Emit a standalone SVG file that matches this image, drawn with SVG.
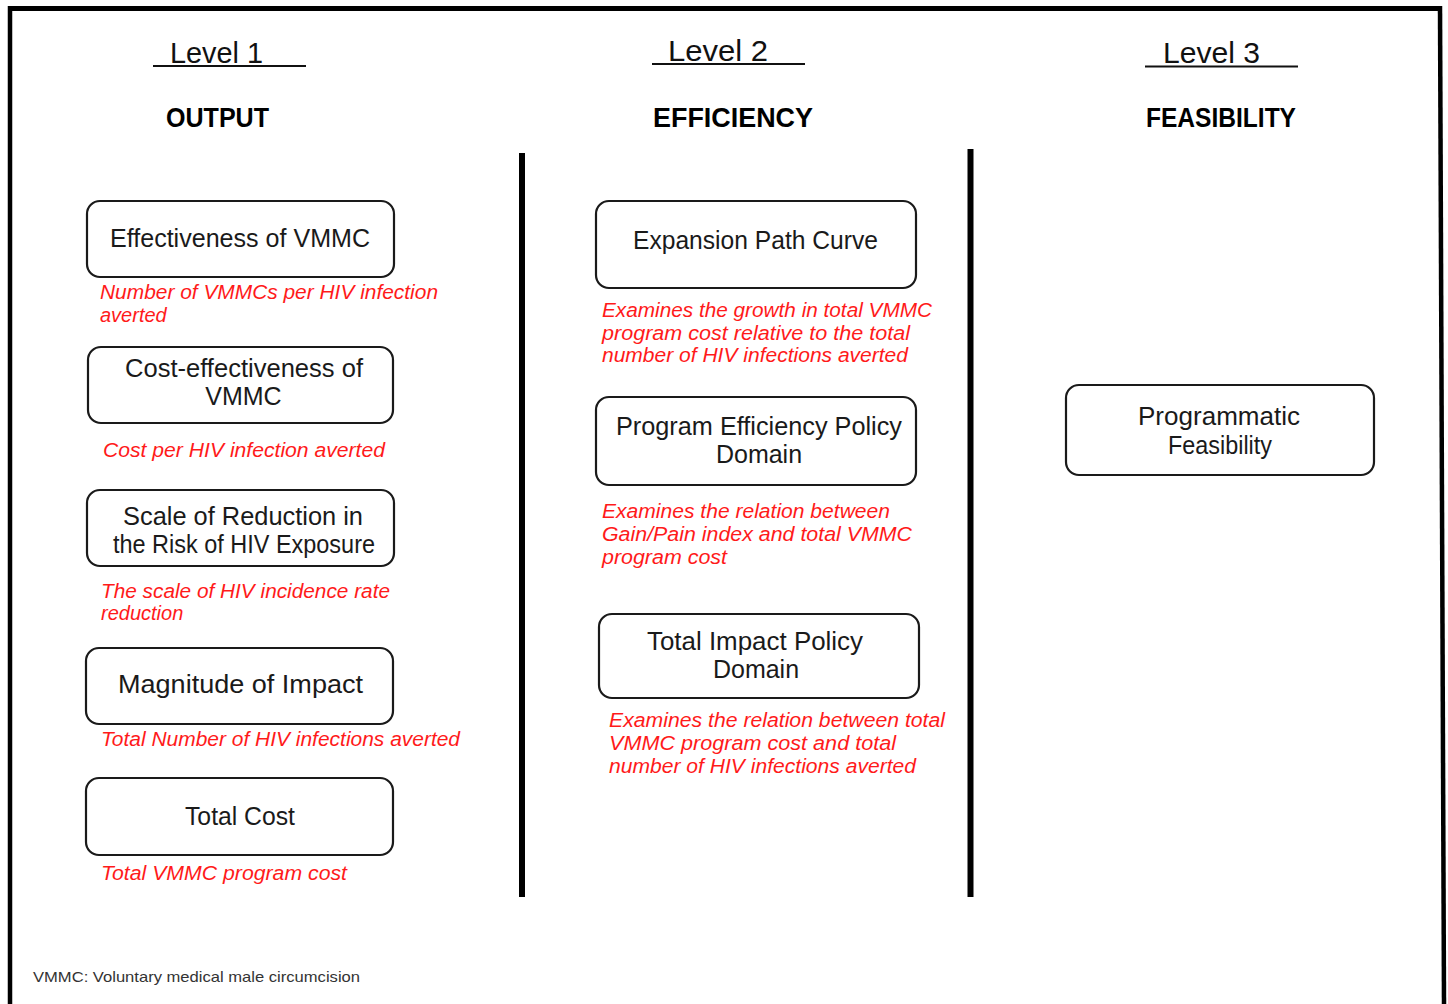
<svg xmlns="http://www.w3.org/2000/svg" width="1448" height="1004" viewBox="0 0 1448 1004">
<style>
.box{fill:#fff;stroke:#1a1a1a;stroke-width:2.2}
.t{font-family:"Liberation Sans",Arial,sans-serif;font-size:25px;fill:#1a1a1a}
.r{font-family:"Liberation Sans",Arial,sans-serif;font-size:20px;font-style:italic;fill:#ff1a1a}
.lv{font-family:"Liberation Sans",Arial,sans-serif;font-size:29px;fill:#111}
.hd{font-family:"Liberation Sans",Arial,sans-serif;font-size:27px;font-weight:bold;fill:#000}
.ul{stroke:#111;stroke-width:2}
.div{stroke:#000;stroke-width:6}
.fn{font-family:"Liberation Sans",Arial,sans-serif;font-size:15px;fill:#333}
</style>
<rect width="1448" height="1004" fill="#fff"/>
<g id="frame">
<line x1="10" y1="8.5" x2="1441" y2="8.5" stroke="#000" stroke-width="5"/>
<line x1="10" y1="6" x2="10" y2="1004" stroke="#000" stroke-width="4.5"/>
<line x1="1440" y1="6" x2="1444" y2="1004" stroke="#000" stroke-width="4.5"/>
</g>
<g id="headers">
<text class="lv" x="170" y="63" textLength="93" lengthAdjust="spacingAndGlyphs">Level 1</text>
<line class="ul" x1="153" y1="66" x2="306" y2="66"/>
<text class="lv" x="668" y="61" textLength="100" lengthAdjust="spacingAndGlyphs">Level 2</text>
<line class="ul" x1="652" y1="64" x2="805" y2="64"/>
<text class="lv" x="1163" y="63" textLength="97" lengthAdjust="spacingAndGlyphs">Level 3</text>
<line class="ul" x1="1145" y1="66.5" x2="1298" y2="66.5"/>
<text class="hd" x="166" y="127" textLength="103" lengthAdjust="spacingAndGlyphs">OUTPUT</text>
<text class="hd" x="653" y="127" textLength="160" lengthAdjust="spacingAndGlyphs">EFFICIENCY</text>
<text class="hd" x="1146" y="127" textLength="150" lengthAdjust="spacingAndGlyphs">FEASIBILITY</text>
</g>
<g id="dividers">
<line class="div" x1="522" y1="153" x2="522" y2="897"/>
<line class="div" x1="970.5" y1="149" x2="970.5" y2="897"/>
</g>
<g id="connectors"></g>
<g id="effectiveness">
<rect class="box" x="87" y="201" width="307" height="76" rx="13"/>
<text class="t" x="110" y="247" textLength="260" lengthAdjust="spacingAndGlyphs">Effectiveness of VMMC</text>
<text class="r" x="100" y="299" textLength="338" lengthAdjust="spacingAndGlyphs">Number of VMMCs per HIV infection</text>
<text class="r" x="100" y="322">averted</text>
</g>
<g id="cost-effectiveness">
<rect class="box" x="88" y="347" width="305" height="76" rx="13"/>
<text class="t" x="125" y="377" textLength="238" lengthAdjust="spacingAndGlyphs">Cost-effectiveness of</text>
<text class="t" x="243.5" y="405" text-anchor="middle">VMMC</text>
<text class="r" x="103" y="457" textLength="282" lengthAdjust="spacingAndGlyphs">Cost per HIV infection averted</text>
</g>
<g id="scale-reduction">
<rect class="box" x="87" y="490" width="307" height="76" rx="13"/>
<text class="t" x="123" y="525" textLength="240" lengthAdjust="spacingAndGlyphs">Scale of Reduction in</text>
<text class="t" x="113" y="553" textLength="262" lengthAdjust="spacingAndGlyphs">the Risk of HIV Exposure</text>
<text class="r" x="101" y="598" textLength="289" lengthAdjust="spacingAndGlyphs">The scale of HIV incidence rate</text>
<text class="r" x="101" y="620">reduction</text>
</g>
<g id="magnitude">
<rect class="box" x="86" y="648" width="307" height="76" rx="13"/>
<text class="t" x="118" y="693" textLength="245" lengthAdjust="spacingAndGlyphs">Magnitude of Impact</text>
<text class="r" x="101" y="746" textLength="359" lengthAdjust="spacingAndGlyphs">Total Number of HIV infections averted</text>
</g>
<g id="total-cost">
<rect class="box" x="86" y="778" width="307" height="77" rx="13"/>
<text class="t" x="185" y="825" textLength="110" lengthAdjust="spacingAndGlyphs">Total Cost</text>
<text class="r" x="101" y="880" textLength="246" lengthAdjust="spacingAndGlyphs">Total VMMC program cost</text>
</g>
<g id="expansion-path">
<rect class="box" x="596" y="201" width="320" height="87" rx="13"/>
<text class="t" x="633" y="249" textLength="245" lengthAdjust="spacingAndGlyphs">Expansion Path Curve</text>
<text class="r" x="602" y="317" textLength="330" lengthAdjust="spacingAndGlyphs">Examines the growth in total VMMC</text>
<text class="r" x="602" y="340" textLength="308" lengthAdjust="spacingAndGlyphs">program cost relative to the total</text>
<text class="r" x="602" y="362" textLength="306" lengthAdjust="spacingAndGlyphs">number of HIV infections averted</text>
</g>
<g id="program-efficiency">
<rect class="box" x="596" y="397" width="320" height="88" rx="13"/>
<text class="t" x="616" y="435" textLength="286" lengthAdjust="spacingAndGlyphs">Program Efficiency Policy</text>
<text class="t" x="759" y="463" text-anchor="middle">Domain</text>
<text class="r" x="602" y="518" textLength="288" lengthAdjust="spacingAndGlyphs">Examines the relation between</text>
<text class="r" x="602" y="541" textLength="310" lengthAdjust="spacingAndGlyphs">Gain/Pain index and total VMMC</text>
<text class="r" x="602" y="564" textLength="125" lengthAdjust="spacingAndGlyphs">program cost</text>
</g>
<g id="total-impact">
<rect class="box" x="599" y="614" width="320" height="84" rx="13"/>
<text class="t" x="647" y="650" textLength="216" lengthAdjust="spacingAndGlyphs">Total Impact Policy</text>
<text class="t" x="756" y="678" text-anchor="middle">Domain</text>
<text class="r" x="609" y="727" textLength="336" lengthAdjust="spacingAndGlyphs">Examines the relation between total</text>
<text class="r" x="609" y="750" textLength="287" lengthAdjust="spacingAndGlyphs">VMMC program cost and total</text>
<text class="r" x="609" y="773" textLength="307" lengthAdjust="spacingAndGlyphs">number of HIV infections averted</text>
</g>
<g id="programmatic-feasibility">
<rect class="box" x="1066" y="385" width="308" height="90" rx="13"/>
<text class="t" x="1138" y="425" textLength="162" lengthAdjust="spacingAndGlyphs">Programmatic</text>
<text class="t" x="1168" y="454" textLength="104" lengthAdjust="spacingAndGlyphs">Feasibility</text>
</g>
<g id="footnote">
<text class="fn" x="33" y="982" textLength="327" lengthAdjust="spacingAndGlyphs">VMMC: Voluntary medical male circumcision</text>
</g>
</svg>
